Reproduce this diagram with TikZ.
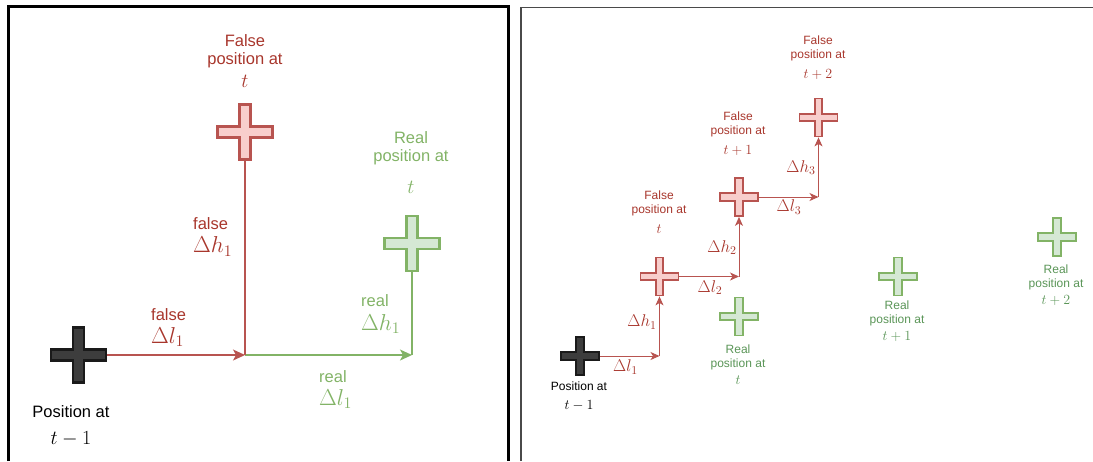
\RequirePackage{fix-cm}
\documentclass[tikz,border=0pt]{standalone}
\usepackage{fontspec}
\setmainfont{Liberation Sans}
\usetikzlibrary{arrows.meta}
\definecolor{fkstroke}{HTML}{B85450}
\definecolor{fkfill}{HTML}{F8CECC}
\definecolor{fktext}{HTML}{A8362C}
\definecolor{rlstroke}{HTML}{82B366}
\definecolor{rlfill}{HTML}{D5E8D4}
\definecolor{rltext}{HTML}{5A9557}
\definecolor{blkfill}{HTML}{3D3D3D}
\definecolor{blkstroke}{HTML}{1A1A1A}
\definecolor{framegray}{HTML}{4A4A4A}

% cross marker: #1 name, #2 centre, #3 half size, #4 half arm, #5 style
\newcommand{\poscross}[5]{%
  \node[inner sep=0pt, minimum size=2*#3] (#1) at (#2) {};
  \draw[#5, shift={(#2)}] (-#4,-#3) -- (#4,-#3) -- (#4,-#4) -- (#3,-#4) -- (#3,#4)
    -- (#4,#4) -- (#4,#3) -- (-#4,#3) -- (-#4,#4) -- (-#3,#4) -- (-#3,-#4) -- (-#4,-#4) -- cycle;
}
\newcommand{\bigt}{\fontsize{20}{18}\selectfont}
\newcommand{\bigd}{\fontsize{23}{18}\selectfont}
\newcommand{\smallt}{\fontsize{14}{13.5}\selectfont}

\tikzset{
  fkcross/.style={draw=fkstroke, fill=fkfill, line join=miter},
  rlcross/.style={draw=rlstroke, fill=rlfill, line join=miter},
  blkcross/.style={draw=blkstroke, fill=blkfill, line join=miter},
  fkline/.style={draw=fkstroke},
  rlline/.style={draw=rlstroke},
  lbl/.style={align=center, anchor=north, inner sep=0pt},
  dlbl/.style={align=left, anchor=north west, inner sep=0pt},
  bigtxt/.style={font=\fontsize{16.5}{18}\selectfont},
  smalltxt/.style={font=\fontsize{12}{13.5}\selectfont},
  dmath/.style={inner sep=0pt, text=fktext, font=\fontsize{17}{17}\selectfont}
}

\begin{document}
\begin{tikzpicture}[x=1pt, y=-1pt, >=Stealth]
\useasboundingbox (0,0) rectangle (1093,461);

%%% Left panel: one step
\begin{scope}[line width=2.2pt]
  % Frame
  \draw[line width=2.5pt] (8.5,461) -- (8.5,6.5) -- (508.5,6.5) -- (508.5,461);

  % Crosses
  \poscross{blk1}{78.5,355}{27.5}{5.5}{blkcross}
  \poscross{fk1}{245,132}{27.5}{5.5}{fkcross}
  \poscross{rl1}{412,243.5}{27.5}{5.5}{rlcross}
\end{scope}

% Steps
\coordinate (fkcorner) at (245,355);
\coordinate (rlcorner) at (412,355);
\draw[rlline, line width=1.3pt, -{Stealth[length=12pt, width=11pt, inset=3pt]}] (fkcorner) -- (rlcorner);
\draw[rlline, line width=1.3pt] (rlcorner) -- (rl1.south);
\draw[fkline, line width=1.3pt, -{Stealth[length=12pt, width=11pt, inset=3pt]}] (blk1.east) -- (fkcorner);
\draw[fkline, line width=1.3pt] (fkcorner) -- (fk1.south);

% Labels
\node[lbl, bigtxt, text=fktext] (fk1lbl) at (245,34.1) {False\\position at\\[5pt]\bigt$t$};
\node[lbl, bigtxt, text=rlstroke] (rl1lbl) at (411,131.1) {Real\\position at\\[14pt]\bigt$t$};
\node[lbl, bigtxt, text=black] (blk1lbl) at (71,405.1) {Position at\\[9pt]\bigt$t-1$};
\node[dlbl, bigtxt, text=fktext] (fkhlbl) at (193,217.1) {false\\[5.5pt]\bigd$\Delta h_1$};
\node[dlbl, bigtxt, text=fktext] (fkllbl) at (151,308.1) {false\\[5pt]\bigd$\Delta l_1$};
\node[dlbl, bigtxt, text=rlstroke] (rlhlbl) at (361,294.1) {real\\[6pt]\bigd$\Delta h_1$};
\node[dlbl, bigtxt, text=rlstroke] (rlllbl) at (319,370.1) {real\\[5pt]\bigd$\Delta l_1$};

%%% Right panel: several steps
\begin{scope}[line width=1.8pt]
  % Frame
  \draw[framegray] (521,461) -- (521,7.5) -- (1093,7.5);

  % Crosses
  \poscross{blk2}{580,356}{19}{3.8}{blkcross}
  \poscross{fka}{659.5,276.5}{19}{3.8}{fkcross}
  \poscross{fkb}{739,197}{19}{3.8}{fkcross}
  \poscross{fkc}{818.5,117.5}{19}{3.8}{fkcross}
  \poscross{rla}{739,316.5}{19}{3.8}{rlcross}
  \poscross{rlb}{898,276.5}{19}{3.8}{rlcross}
  \poscross{rlc}{1057,237}{19}{3.8}{rlcross}
\end{scope}

% Steps
\coordinate (ka) at (659.5,356);
\coordinate (kb) at (739,276.5);
\coordinate (kc) at (818.5,197);
\begin{scope}[line width=1pt, -{Stealth[length=9pt, width=8pt, inset=2.5pt]}]
  \draw[fkline] (blk2.east) -- (ka);
  \draw[fkline] (ka) -- (fka.south);
  \draw[fkline] (fka.east) -- (kb);
  \draw[fkline] (kb) -- (fkb.south);
  \draw[fkline] (fkb.east) -- (kc);
  \draw[fkline] (kc) -- (fkc.south);
\end{scope}

% Step labels
\node[dmath] (dha) at (642,322) {$\Delta h_1$};
\node[dmath] (dla) at (625.5,367) {$\Delta l_1$};
\node[dmath] (dhb) at (722,247.5) {$\Delta h_2$};
\node[dmath] (dlb) at (710,287.5) {$\Delta l_2$};
\node[dmath] (dhc) at (801,167.5) {$\Delta h_3$};
\node[dmath] (dlc) at (789,207) {$\Delta l_3$};

% Position labels
\node[lbl, smalltxt, text=fktext] (fkalbl) at (659,190.7) {False\\position at\\[7pt]\smallt$t$};
\node[lbl, smalltxt, text=fktext] (fkblbl) at (738,111.7) {False\\position at\\[7pt]\smallt$t+1$};
\node[lbl, smalltxt, text=fktext] (fkclbl) at (818,35.7) {False\\position at\\[7pt]\smallt$t+2$};
\node[lbl, smalltxt, text=rltext] (rlalbl) at (738,344.7) {Real\\position at\\[4pt]\smallt$t$};
\node[lbl, smalltxt, text=rltext] (rlblbl) at (897,300.7) {Real\\position at\\[4pt]\smallt$t+1$};
\node[lbl, smalltxt, text=rltext] (rlclbl) at (1056,264.7) {Real\\position at\\[4pt]\smallt$t+2$};
\node[lbl, smalltxt, text=black] (blk2lbl) at (579,381.7) {Position at\\[5.5pt]\smallt$t-1$};

\end{tikzpicture}
\end{document}
